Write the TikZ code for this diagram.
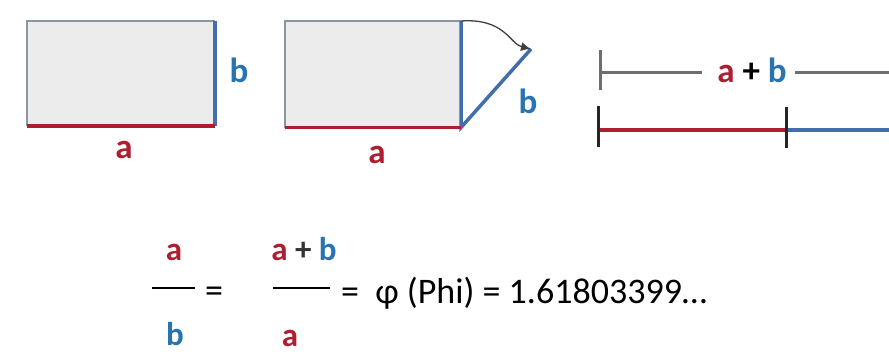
\documentclass[tikz,border=0pt]{standalone}
\usepackage{fontspec}
\setmainfont{Carlito}
\usetikzlibrary{arrows.meta}
\definecolor{phired}{RGB}{172,30,48}
\definecolor{phiblue}{RGB}{40,116,178}
\definecolor{edgeblue}{RGB}{66,110,172}
\definecolor{edgegray}{RGB}{140,150,160}
\definecolor{boxfill}{RGB}{236,236,236}
\definecolor{linegray}{RGB}{110,110,110}
\tikzset{
  x=1pt, y=-1pt,
  redlbl/.style={text=phired, font=\fontsize{35}{37}\selectfont\bfseries, inner sep=0pt, anchor=base},
  bluelbl/.style={text=phiblue, font=\fontsize{35}{37}\selectfont\bfseries, inner sep=0pt, anchor=base},
  sumlbl/.style={font=\fontsize{35}{37}\selectfont\bfseries, inner sep=0pt, anchor=base},
  fredlbl/.style={text=phired, font=\fontsize{33}{35}\selectfont\bfseries, inner sep=0pt, anchor=base},
  fbluelbl/.style={text=phiblue, font=\fontsize{33}{35}\selectfont\bfseries, inner sep=0pt, anchor=base},
  fsumlbl/.style={font=\fontsize{33}{35}\selectfont\bfseries, inner sep=0pt, anchor=base},
  eqtext/.style={font=\fontsize{36}{38}\selectfont, inner sep=0pt},
  grayedge/.style={draw=edgegray, line width=2.5pt},
  blueedge/.style={draw=edgeblue, line width=3.5pt},
  rededge/.style={draw=phired, line width=3.5pt},
  tickmark/.style={draw=black!85, line width=3pt},
  grayline/.style={draw=linegray, line width=2.5pt},
  fracline/.style={draw=black, line width=2.5pt},
}
\begin{document}
\begin{tikzpicture}
\useasboundingbox (0,0) rectangle (889,356);
% ---- rectangle 1
\coordinate (r1tl) at (27,21);
\coordinate (r1tr) at (215,21);
\coordinate (r1bl) at (27,126);
\coordinate (r1br) at (215,126);
\fill[boxfill] (r1tl) rectangle (r1br);
\draw[grayedge] (r1bl) -- (r1tl) -- (r1tr);
\draw[blueedge] (r1tr) -- (r1br);
\draw[rededge] (r1bl) -- (r1br);
\node[bluelbl] (b1) at (239,82) {b};
\node[redlbl] (a1) at (124,158) {a};
% ---- rectangle 2
\coordinate (r2tl) at (285,21);
\coordinate (r2tr) at (461,21);
\coordinate (r2bl) at (285,127.5);
\coordinate (r2br) at (461,127.5);
\coordinate (r2tip) at (531,49);
\fill[boxfill] (r2tl) rectangle (r2br);
\draw[grayedge] (r2bl) -- (r2tl) -- (r2tr);
\draw[blueedge] (r2tr) -- (r2br) -- (r2tip);
\draw[rededge] (r2bl) -- (r2br);
\draw[draw=black!75, line width=1.3pt, -{Latex[length=10pt,width=9pt]}]
  (r2tr) .. controls (505,18) and (510,44) .. (r2tip);
\node[bluelbl] (b2) at (528,113) {b};
\node[redlbl] (a2) at (377,163) {a};
% ---- segment a + b
\coordinate (t1top) at (600,50);
\coordinate (t1bot) at (600,90);
\coordinate (t1mid) at (600,72.5);
\coordinate (g1end) at (702,72.5);
\coordinate (g2start) at (795,72.5);
\coordinate (g2end) at (889,72.5);
\draw[tickmark, draw=linegray] (t1top) -- (t1bot);
\draw[grayline] (t1mid) -- (g1end);
\draw[grayline] (g2start) -- (g2end);
\node[sumlbl] (sum) at (752,82) {\textcolor{phired}{a} + \textcolor{phiblue}{b}};
\coordinate (s1top) at (598,106);
\coordinate (s1bot) at (598,147);
\coordinate (s1mid) at (598,130);
\coordinate (s2top) at (786,107);
\coordinate (s2bot) at (786,148);
\coordinate (s2mid) at (786,130);
\coordinate (s3end) at (889,130);
\draw[rededge] (s1mid) -- (s2mid);
\draw[blueedge] (s2mid) -- (s3end);
\draw[tickmark] (s1top) -- (s1bot);
\draw[tickmark] (s2top) -- (s2bot);
% ---- formula
\node[fredlbl] (fa) at (174,260) {a};
\coordinate (fl1a) at (152,288);
\coordinate (fl1b) at (195,288);
\draw[fracline] (fl1a) -- (fl1b);
\node[fbluelbl] (fb) at (175,345) {b};
\node[eqtext] (eq1) at (214,295) {=};
\node[fsumlbl] (fab) at (304,260) {\textcolor{phired}{a} \textcolor{black!80}{+} \textcolor{phiblue}{b}};
\coordinate (fl2a) at (273,288);
\coordinate (fl2b) at (330,288);
\draw[fracline] (fl2a) -- (fl2b);
\node[fredlbl] (fa2) at (290,346) {a};
\node[eqtext, anchor=base west] (phi) at (341,303) {=\ \ φ (Phi) = 1.61803399…};
\end{tikzpicture}
\end{document}
